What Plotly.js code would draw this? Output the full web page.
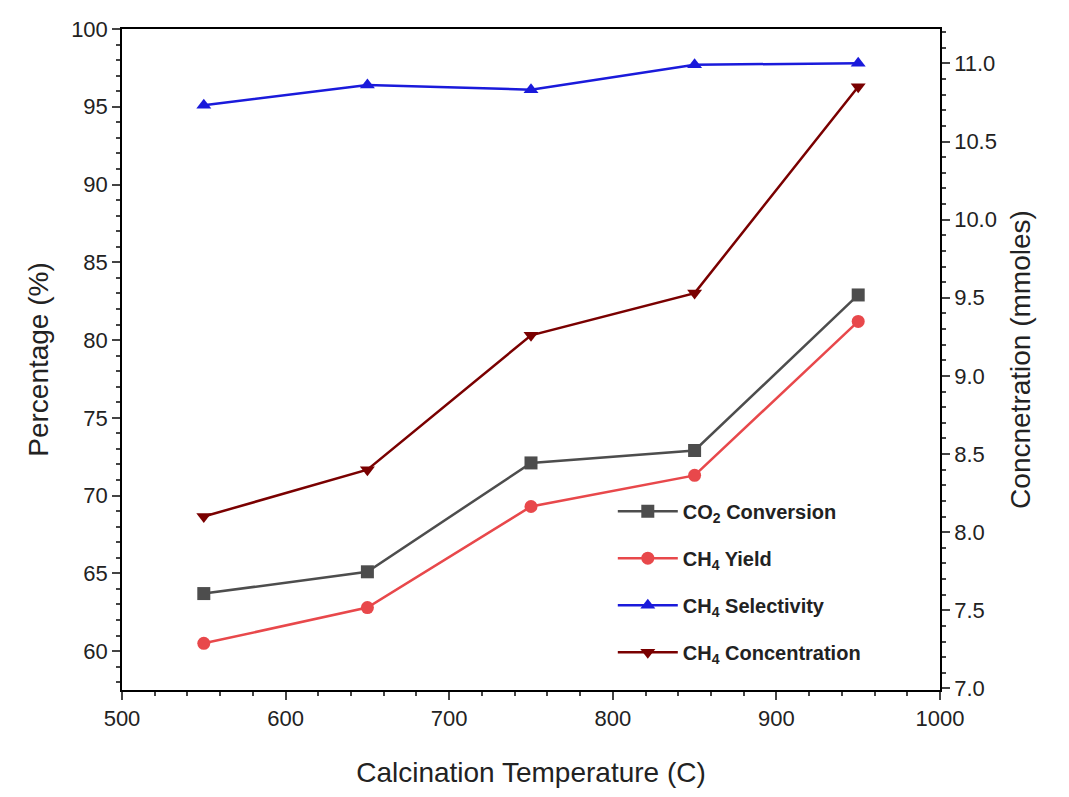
<!DOCTYPE html>
<html><head><script src="https://cdn.plot.ly/plotly-3.0.1.min.js"></script></head>
<body style="margin:0"><div id="divPlot" style="width:1069px;height:797px"></div>
<script>
const temps = [550, 650, 750, 850, 950];
const co2Conversion = [63.7, 65.1, 72.1, 72.9, 82.9];
const ch4Yield = [60.5, 62.8, 69.3, 71.3, 81.2];
const ch4Selectivity = [95.1, 96.4, 96.1, 97.7, 97.8];
const ch4Concentration = [8.10, 8.40, 9.26, 9.53, 10.85];

const mk = (y, name, color, symbol, axis, grp) => ({
  x : temps, y : y, name : name, type : 'scatter', mode : 'lines+markers',
  yaxis : axis, legendgroup : grp, line : {color : color, width : 2.5},
  marker : {color : color, symbol : symbol, size : 13}
});

const data = [
  mk(co2Conversion, '<b>CO<sub>2</sub> Conversion</b>', '#4d4d4d', 'square', 'y', 'a'),
  mk(ch4Yield, '<b>CH<sub>4</sub> Yield</b>', '#e8484b', 'circle', 'y', 'b'),
  mk(ch4Selectivity, '<b>CH<sub>4</sub> Selectivity</b>', '#1a1adb', 'triangle-up', 'y', 'c'),
  mk(ch4Concentration, '<b>CH<sub>4</sub> Concentration</b>', '#7a0000', 'triangle-down', 'y2', 'd')
];

const ax = {showline : true, linecolor : 'black', linewidth : 1.5, ticks : 'outside',
  ticklen : 8, tickwidth : 1.5, showgrid : false, zeroline : false,
  tickfont : {size : 22, color : '#222'}, minor : {ticks : 'outside', ticklen : 4}};

const layout = {
  width : 1069, height : 797,
  margin : {l : 122, r : 129, t : 29, b : 107},
  font : {family : 'Arial, Liberation Sans', color : '#222'},
  paper_bgcolor : 'white', plot_bgcolor : 'white',
  xaxis : Object.assign({}, ax, {range : [500, 1000], dtick : 100, mirror : true,
    title : {text : 'Calcination Temperature (C)', font : {size : 28}, standoff : 32}}),
  yaxis : Object.assign({}, ax, {range : [57.5, 100], dtick : 5,
    title : {text : 'Percentage (%)', font : {size : 28}, standoff : 14}}),
  yaxis2 : Object.assign({}, ax, {range : [6.99, 11.22], dtick : 0.5, tickformat : '.1f',
    overlaying : 'y', side : 'right',
    title : {text : 'Concnetration (mmoles)', font : {size : 28}, standoff : 14}}),
  legend : {x : 0.6, y : 0.3, xanchor : 'left', yanchor : 'top', bgcolor : 'rgba(0,0,0,0)',
    font : {size : 20, color : '#222'}, tracegroupgap : 18, itemwidth : 60}
};
Plotly.newPlot('divPlot', data, layout, {displayModeBar : false});
</script></body></html>
